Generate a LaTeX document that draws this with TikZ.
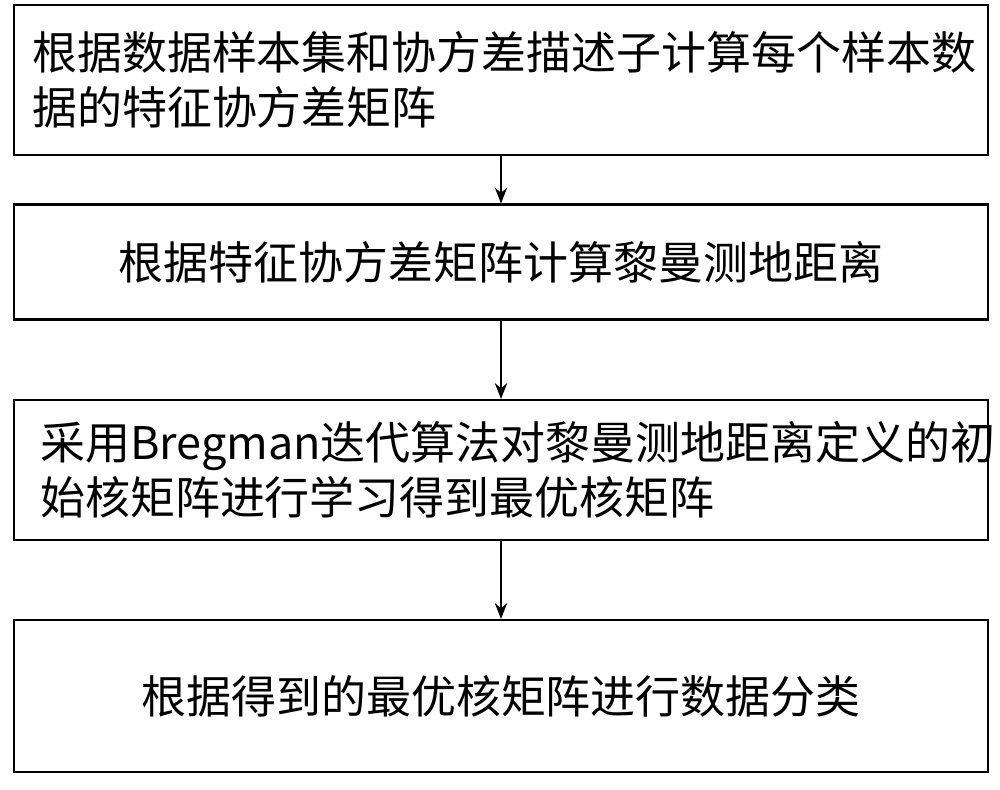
\documentclass[tikz,border=0pt]{standalone}
\usepackage{fontspec}
\newfontfamily\cjk{Noto Sans CJK SC}
\usetikzlibrary{arrows.meta}
\begin{document}
\begin{tikzpicture}[x=0.02cm,y=-0.02cm,
  box/.style={draw,line width=1.2pt,minimum width=19.48cm,minimum height=#1,inner sep=0pt,font=\cjk\fontsize{25.6pt}{31pt}\selectfont},
  txt/.style={inner sep=0pt,text width=19.2cm,align=left,font=\cjk\fontsize{25.6pt}{31pt}\selectfont},
  arr/.style={-{Stealth[length=9pt,width=7pt]},line width=1.1pt}]
\useasboundingbox (0,0) rectangle (1000,789);
\node[box=3cm] (b1) at (501,80) {};
\node[txt] (t1) at (512,80) {根据数据样本集和协方差描述子计算每个样本数\\据的特征协方差矩阵};
\node[box=2.3cm,align=center] (b2) at (501,262) {根据特征协方差矩阵计算黎曼测地距离};
\node[box=2.8cm] (b3) at (501,470) {};
\node[txt] (t3) at (520,470) {采用Bregman迭代算法对黎曼测地距离定义的初\\始核矩阵进行学习得到最优核矩阵};
\node[box=3.04cm,align=center] (b4) at (501,696) {根据得到的最优核矩阵进行数据分类};
\draw[arr] (b1) -- (b2);
\draw[arr] (b2) -- (b3);
\draw[arr] (b3) -- (b4);
\end{tikzpicture}
\end{document}
